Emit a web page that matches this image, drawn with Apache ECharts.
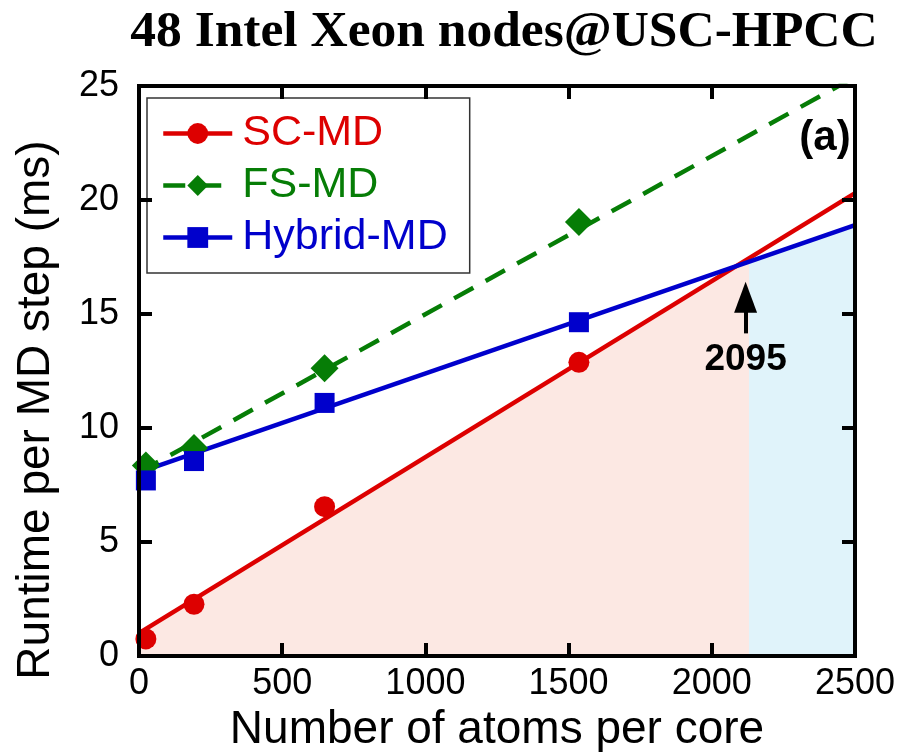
<!DOCTYPE html>
<html>
<head>
<meta charset="utf-8">
<script src="https://cdn.jsdelivr.net/npm/echarts@6/dist/echarts.min.js"></script>
<style>
html,body{margin:0;padding:0;background:#fff;}
#chart{width:903px;height:752px;}
</style>
</head>
<body>
<div id="chart"></div>
<script>
// ---- data ----
const atomsPerCore = [24, 192, 648, 1536];
const scMD = [0.75, 2.27, 6.55, 12.88];
const fsMD = [8.36, 9.12, 12.62, 19.04];
const hybridMD = [7.70, 8.55, 11.10, 14.64];

// linear fits (end points at x = 0 and x = 2500)
const fitX = [0, 2500];
const scFit = [1.0, 20.3];
const fsFit = [8.05, 25.4];
const hybridFit = [8.05, 18.9];

// shaded regions (corner values)
const pinkShadeX = [0, 2130];
const pinkShadeY = [1.0, 17.44];
const blueShadeX = [2130, 2500];
const blueShadeY = [17.3, 18.9];

// crossover annotation
const arrowX = 2118;
const arrowY = [14.15, 15.73];
const crossoverLabel = '2095';

const xTicks = [0, 500, 1000, 1500, 2000, 2500];
const yTicks = [0, 5, 10, 15, 20, 25];

const RED = '#dd0000', GREEN = '#067d06', BLUE = '#0000cc';
const SANS = '"Liberation Sans", Arial, sans-serif';
const LW = 4.5;

const zip = (xs, ys) => xs.map((x, i) => [x, ys[i]]);

const chart = echarts.init(document.getElementById('chart'), null, {renderer: 'canvas'});

const axisLineStyle = {color: '#000', width: 4, cap: 'square'};
const tickStyle = {inside: true, length: 13, lineStyle: {color: '#000', width: 4}};

function xAx(pos, labels) {
  return {
    type: 'value', position: pos, min: xTicks[0], max: xTicks[xTicks.length - 1],
    interval: xTicks[1] - xTicks[0], z: 10,
    axisLine: {show: true, onZero: false, lineStyle: axisLineStyle},
    axisTick: tickStyle,
    splitLine: {show: false},
    axisLabel: labels ? {fontSize: 36, margin: 10, color: '#000', fontFamily: SANS,
                         formatter: v => String(v)} : {show: false},
    name: labels ? 'Number of atoms per core' : '',
    nameLocation: 'middle', nameGap: 46,
    nameTextStyle: {fontSize: 46, color: '#000', fontFamily: SANS}
  };
}
function yAx(pos, labels) {
  return {
    type: 'value', position: pos, min: yTicks[0], max: yTicks[yTicks.length - 1],
    interval: yTicks[1] - yTicks[0], z: 10,
    axisLine: {show: true, onZero: false, lineStyle: axisLineStyle},
    axisTick: tickStyle,
    splitLine: {show: false},
    axisLabel: labels ? {fontSize: 36, margin: 20, color: '#000', fontFamily: SANS,
                         formatter: v => String(v)} : {show: false},
    name: labels ? 'Runtime per MD step (ms)' : '',
    nameLocation: 'middle', nameGap: 80,
    nameTextStyle: {fontSize: 46, color: '#000', fontFamily: SANS, padding: [0, 78, 0, 0]}
  };
}

function fitLine(name, ys, color, symbol, dashed) {
  return {
    name: name, type: 'line', data: zip(fitX, ys), showSymbol: false,
    symbol: symbol, clip: true, z: 3,
    lineStyle: {color: color, width: LW, type: dashed ? [22, 14] : 'solid'},
    itemStyle: {color: color}
  };
}
function points(name, ys, color, symbol, size) {
  return {
    name: name, type: 'scatter', data: zip(atomsPerCore, ys),
    symbol: symbol, symbolSize: size, z: 4,
    itemStyle: {color: color, opacity: 1}
  };
}

const option = {
  animation: false,
  backgroundColor: '#fff',
  title: [
    {text: '48 Intel Xeon nodes@USC-HPCC', left: 499, textAlign: 'center', top: 2,
     textStyle: {fontFamily: '"Liberation Serif", "Times New Roman", serif', fontWeight: 'bold', fontSize: 51.5, color: '#000'}},
    {text: '(a)', left: 820, textAlign: 'center', top: 112,
     textStyle: {fontFamily: SANS, fontWeight: 'bold', fontSize: 42, color: '#000'}}
  ],
  grid: {left: 139, right: 48, top: 86, bottom: 96, outerBoundsMode: 'none'},
  legend: {
    orient: 'vertical', left: 147, top: 98,
    padding: [14, 22, 14, 14],
    itemWidth: 69, itemHeight: 26, itemGap: 9,
    borderColor: '#333', borderWidth: 1.5, backgroundColor: '#fff',
    selectedMode: false,
    lineStyle: {width: LW},
    textStyle: {fontSize: 43, fontFamily: SANS, padding: [0, 0, 0, 5]},
    data: [
      {name: 'SC-MD', textStyle: {color: RED}},
      {name: 'FS-MD', textStyle: {color: GREEN}},
      {name: 'Hybrid-MD', textStyle: {color: BLUE}}
    ]
  },
  xAxis: [xAx('bottom', true), xAx('top', false)],
  yAxis: [yAx('left', true), yAx('right', false)],
  series: [
    {type: 'line', data: zip(pinkShadeX, pinkShadeY), showSymbol: false, z: 1,
     lineStyle: {width: 0, opacity: 0}, areaStyle: {color: '#fce8e3', opacity: 1},
     markLine: {
       silent: true, symbol: ['none', 'triangle'], symbolSize: [23, 31],
       lineStyle: {color: '#000', width: 4, type: 'solid'},
       label: {show: true, position: 'start', formatter: crossoverLabel, distance: 8,
               fontSize: 37, fontWeight: 'bold', color: '#000', fontFamily: SANS},
       data: [[{coord: [arrowX, arrowY[0]]}, {coord: [arrowX, arrowY[1]]}]]
     }},
    {type: 'line', data: zip(blueShadeX, blueShadeY), showSymbol: false, z: 1,
     lineStyle: {width: 0, opacity: 0}, areaStyle: {color: '#e0f3fa', opacity: 1}},
    fitLine('SC-MD', scFit, RED, 'circle', false),
    fitLine('FS-MD', fsFit, GREEN, 'diamond', true),
    fitLine('Hybrid-MD', hybridFit, BLUE, 'rect', false),
    points('SC-MD', scMD, RED, 'circle', 21),
    points('FS-MD', fsMD, GREEN, 'diamond', 28),
    points('Hybrid-MD', hybridMD, BLUE, 'rect', 20)
  ]
};
chart.setOption(option);
</script>
</body>
</html>
